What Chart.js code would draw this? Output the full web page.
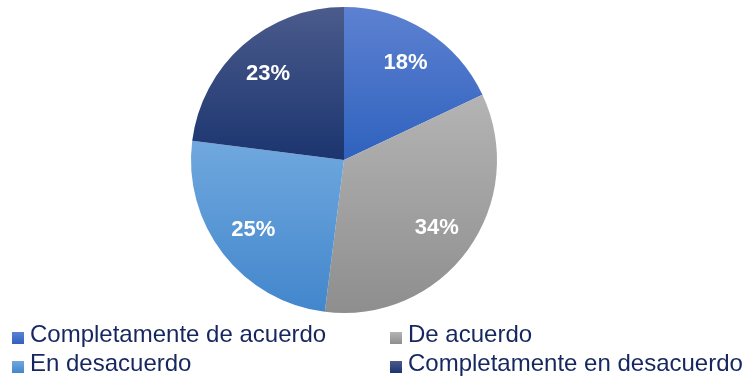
<!DOCTYPE html>
<html>
<head>
<meta charset="utf-8">
<script src="https://cdn.jsdelivr.net/npm/chart.js@4/dist/chart.umd.min.js"></script>
<style>
  html, body { margin: 0; padding: 0; background: #fff; }
  #wrap { position: relative; width: 744px; height: 381px; overflow: hidden; }
  #chart { position: absolute; left: 0; top: 0; }
  .leg { position: absolute; font-family: "Liberation Sans", Arial, sans-serif; font-size: 24px;
         color: #15275e; white-space: nowrap; line-height: 1; }
  .leg i { position: absolute; width: 12px; height: 12px; }
</style>
</head>
<body>
<div id="wrap">
  <canvas id="chart" width="744" height="381"></canvas>
</div>
<script>
// Survey answer shares (percent)
const categories = ["Completamente de acuerdo", "De acuerdo", "En desacuerdo", "Completamente en desacuerdo"];
const shares = [18, 34, 25, 23];
// Vertical gradient per slice: lighter at the top, darker at the bottom
const topColors = ["#5d81d1", "#b4b4b4", "#70a8de", "#4b5b8c"];
const bottomColors = ["#2f62be", "#8e8e8e", "#4286cc", "#1b356f"];
// Legend placement: two columns, two rows
const legendSlots = [
  { x: 12, y: 322 }, { x: 390, y: 322 },
  { x: 12, y: 351 }, { x: 390, y: 351 }
];

// Vertical extent of a sector (canvas angles, y grows downward)
function sectorYRange(cy, r, a0, a1) {
  let ys = [cy, cy + r * Math.sin(a0), cy + r * Math.sin(a1)];
  for (let k = -4; k <= 4; k++) {
    const t = Math.PI / 2 + k * Math.PI;
    if (t > a0 && t < a1) ys.push(cy + r * Math.sin(t));
  }
  return [Math.min(...ys), Math.max(...ys)];
}

function sliceGradient(context) {
  const chart = context.chart;
  const area = chart.chartArea;
  const i = context.dataIndex;
  if (!area) return topColors[i];
  const cx = (area.left + area.right) / 2;
  const cy = (area.top + area.bottom) / 2;
  const r = Math.min(area.right - area.left, area.bottom - area.top) / 2;
  const total = shares.reduce((s, v) => s + v, 0);
  let before = 0;
  for (let k = 0; k < i; k++) before += shares[k];
  const a0 = -Math.PI / 2 + 2 * Math.PI * before / total;
  const a1 = a0 + 2 * Math.PI * shares[i] / total;
  const [y0, y1] = sectorYRange(cy, r, a0, a1);
  const g = chart.ctx.createLinearGradient(0, y0, 0, y1);
  g.addColorStop(0, topColors[i]);
  g.addColorStop(1, bottomColors[i]);
  return g;
}

// Percent labels drawn inside each slice
const sliceLabels = {
  id: 'sliceLabels',
  afterDatasetsDraw(chart) {
    const ctx = chart.ctx;
    const meta = chart.getDatasetMeta(0);
    ctx.save();
    ctx.fillStyle = '#ffffff';
    ctx.font = 'bold 22px "Liberation Sans", Arial, sans-serif';
    ctx.textAlign = 'center';
    ctx.textBaseline = 'middle';
    meta.data.forEach((arc, i) => {
      const p = arc.getProps(['x', 'y', 'startAngle', 'endAngle', 'outerRadius'], true);
      const mid = (p.startAngle + p.endAngle) / 2;
      const d = p.outerRadius * 0.75;
      ctx.fillText(shares[i] + '%', p.x + Math.cos(mid) * d, p.y + Math.sin(mid) * d);
    });
    ctx.restore();
  }
};

new Chart(document.getElementById('chart'), {
  type: 'pie',
  data: {
    labels: categories,
    datasets: [{
      data: shares,
      backgroundColor: sliceGradient,
      borderWidth: 0
    }]
  },
  options: {
    responsive: false,
    animation: false,
    layout: { padding: { top: 7, bottom: 68, left: 0, right: 56 } },
    plugins: { legend: { display: false }, tooltip: { enabled: false } }
  },
  plugins: [sliceLabels]
});

// HTML legend built from the category list
const wrap = document.getElementById('wrap');
categories.forEach((name, i) => {
  const el = document.createElement('div');
  el.className = 'leg';
  el.style.left = (legendSlots[i].x + 18) + 'px';
  el.style.top = legendSlots[i].y + 'px';
  const sw = document.createElement('i');
  sw.style.left = '-18px';
  sw.style.top = '10px';
  sw.style.background = 'linear-gradient(' + topColors[i] + ',' + bottomColors[i] + ')';
  el.appendChild(sw);
  el.appendChild(document.createTextNode(name));
  wrap.appendChild(el);
});
</script>
</body>
</html>
